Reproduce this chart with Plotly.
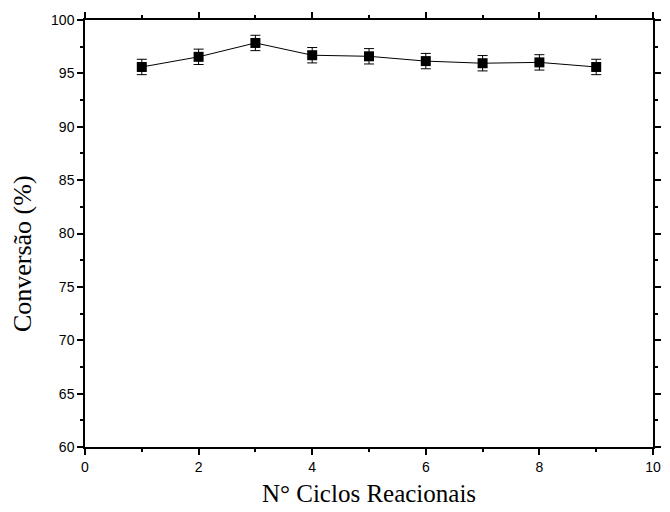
import plotly.graph_objects as go

# Reaction cycles and measured conversion
ciclos = [1, 2, 3, 4, 5, 6, 7, 8, 9]
conversao = [95.6, 96.55, 97.85, 96.7, 96.6, 96.15, 95.95, 96.03, 95.6]
erro = [0.72, 0.72, 0.72, 0.72, 0.72, 0.72, 0.72, 0.72, 0.72]

x_ticks = [0, 2, 4, 6, 8, 10]
y_ticks = [60, 65, 70, 75, 80, 85, 90, 95, 100]

serif = "Liberation Serif, Times New Roman, serif"

fig = go.Figure()
fig.add_trace(go.Scatter(
    x=ciclos, y=conversao,
    mode="lines+markers",
    line=dict(color="black", width=1),
    marker=dict(symbol="square", size=10, color="black"),
    error_y=dict(type="data", array=erro, visible=True,
                 color="black", thickness=1, width=5),
    showlegend=False,
))

axis_common = dict(
    showgrid=False, zeroline=False,
    showline=True, linecolor="black", linewidth=1.5,
    mirror="ticks", ticks="outside", ticklen=6, tickwidth=1.5,
    tickcolor="black",
    tickfont=dict(family="Liberation Sans, Arial, sans-serif", size=14, color="black"),
)

fig.update_xaxes(
    range=[0, 10], tickvals=x_ticks,
    minor=dict(dtick=1, ticks="outside", ticklen=3, tickwidth=1.5, tickcolor="black"),
    title=dict(text="N° Ciclos Reacionais", standoff=11,
               font=dict(family=serif, size=25, color="black")),
    **axis_common,
)
fig.update_yaxes(
    range=[60, 100], tickvals=y_ticks,
    minor=dict(dtick=2.5, ticks="outside", ticklen=3, tickwidth=1.5, tickcolor="black"),
    **axis_common,
)

# Y axis title placed as a rotated annotation
fig.add_annotation(
    text="Conversão (%)", textangle=-90,
    xref="paper", yref="paper", x=-0.109, y=0.452,
    xanchor="center", yanchor="middle", showarrow=False,
    font=dict(family=serif, size=26, color="black"),
)

fig.update_layout(
    width=670, height=512,
    margin=dict(l=85, r=9, t=20, b=64),
    plot_bgcolor="white", paper_bgcolor="white",
)

fig.write_html("out.html")
